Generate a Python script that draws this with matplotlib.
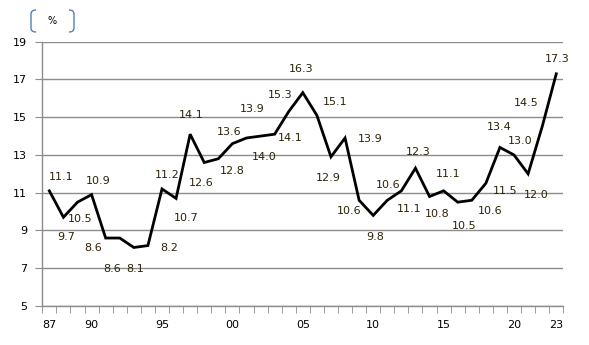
import matplotlib.pyplot as plt
from matplotlib.path import Path
from matplotlib.patches import PathPatch

years = list(range(1987, 2024))
values = [11.1, 9.7, 10.5, 10.9, 8.6, 8.6, 8.1, 8.2, 11.2, 10.7,
          14.1, 12.6, 12.8, 13.6, 13.9, 14.0, 14.1, 15.3, 16.3, 15.1,
          12.9, 13.9, 10.6, 9.8, 10.6, 11.1, 12.3, 10.8, 11.1, 10.5,
          10.6, 11.5, 13.4, 13.0, 12.0, 14.5, 17.3]
tick_years = [1987, 1990, 1995, 2000, 2005, 2010, 2015, 2020, 2023]
unit_label = "%"

# label offsets in pixels (dx, dy), placement only
label_offsets = [(12, 14), (3, -20), (3, -17), (7, 14), (-13, -10), (-8, -31),
                 (1, -22), (21, -2), (5, 14), (10, -20), (1, 19), (-3, -20),
                 (14, -12), (-3, 12), (6, 29), (4, -21), (16, -4), (-9, 17),
                 (-2, 24), (18, 13), (-3, -21), (25, -1), (-10, -11), (2, -22),
                 (1, 15), (8, -18), (3, 16), (8, -17), (5, 17), (6, -24),
                 (18, -11), (19, -8), (-1, 20), (6, 14), (8, -21), (-16, 24),
                 (1, 15)]

fig = plt.figure(figsize=(5.89, 3.45), dpi=100)
ax = fig.add_axes([42.3 / 589, 1 - 306 / 345, 521 / 589, 264.3 / 345])

x = list(range(len(years)))
ax.plot(x, values, color='black', linewidth=2.0, solid_joinstyle='miter', zorder=3)

for i, v in enumerate(values):
    dx, dy = label_offsets[i]
    ax.annotate(f"{v:.1f}", xy=(i, v), xytext=(dx, dy), textcoords='offset pixels',
                ha='center', va='center', fontsize=8, color='#2e2208',
                family='DejaVu Sans')

ax.set_xlim(-0.5, len(years) - 0.5)
ax.set_ylim(5, 19)
ax.set_yticks(range(5, 20, 2))
ax.grid(axis='y', color='#8c8c8c', linewidth=1.0)
ax.set_axisbelow(True)

ax.set_xticks([years.index(y) for y in tick_years])
ax.set_xticklabels([f"{y % 100:02d}" for y in tick_years])
ax.set_xticks([k - 0.5 for k in range(len(years) + 1)], minor=True)
ax.tick_params(axis='x', which='major', length=0, pad=10, labelsize=8)
ax.tick_params(axis='x', which='minor', length=5, color='#8c8c8c', direction='out')
ax.tick_params(axis='y', length=5, color='#8c8c8c', labelsize=8, pad=6)

for side in ['top', 'right']:
    ax.spines[side].set_visible(False)
for side in ['left', 'bottom']:
    ax.spines[side].set_color('#8c8c8c')
    ax.spines[side].set_linewidth(1.0)


# bracketed unit label, drawn in pixel coords (y down)
def bracket(x_corner, x_end, y_top, y_bot):
    r = 4
    verts = [(x_end, y_top), (x_corner, y_top), (x_corner, y_top + r),
             (x_corner, y_bot - r), (x_corner, y_bot), (x_end, y_bot)]
    codes = [Path.MOVETO, Path.CURVE3, Path.CURVE3,
             Path.LINETO, Path.CURVE3, Path.CURVE3]
    return Path([(vx / 589, 1 - vy / 345) for vx, vy in verts], codes)


blue = '#4f81bd'
fig.patches.append(PathPatch(bracket(31, 36, 10, 32), fill=False, edgecolor=blue, lw=1.0,
                             transform=fig.transFigure))
fig.patches.append(PathPatch(bracket(74, 69, 10, 32), fill=False, edgecolor=blue, lw=1.0,
                             transform=fig.transFigure))
fig.text(52 / 589, 1 - 21 / 345, unit_label, ha='center', va='center', fontsize=7)

fig.savefig("out.png", dpi=100)
